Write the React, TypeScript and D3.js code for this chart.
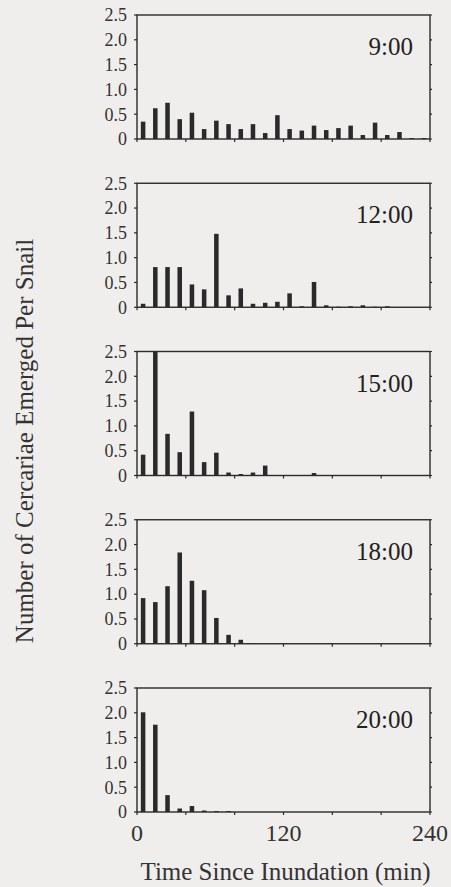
import React, { useEffect, useRef } from "react";
import * as d3 from "d3";

// bin centres (min since inundation)
const minutes = [5, 15, 25, 35, 45, 55, 65, 75, 85, 95, 105, 115, 125, 135, 145, 155, 165, 175, 185, 195, 205, 215, 225, 235];

const panelLabels = ["9:00", "12:00", "15:00", "18:00", "20:00"];

const cerc0900 = [0.35, 0.62, 0.73, 0.40, 0.53, 0.20, 0.37, 0.30, 0.20, 0.30, 0.12, 0.48, 0.20, 0.17, 0.27, 0.18, 0.22, 0.27, 0.08, 0.33, 0.08, 0.14, 0.02, 0.02];
const cerc1200 = [0.07, 0.81, 0.81, 0.81, 0.46, 0.36, 1.48, 0.24, 0.38, 0.07, 0.09, 0.11, 0.28, 0.02, 0.51, 0.04, 0.01, 0.02, 0.04, 0.01, 0.02, 0, 0, 0];
const cerc1500 = [0.42, 2.5, 0.84, 0.47, 1.29, 0.27, 0.46, 0.06, 0.03, 0.06, 0.20, 0.01, 0.01, 0.01, 0.05, 0.01, 0.01, 0.01, 0.01, 0.01, 0.01, 0.01, 0.01, 0.01];
const cerc1800 = [0.92, 0.84, 1.16, 1.84, 1.27, 1.08, 0.52, 0.18, 0.08, 0.01, 0, 0, 0, 0, 0, 0, 0, 0, 0, 0, 0, 0, 0, 0];
const cerc2000 = [2.01, 1.76, 0.34, 0.07, 0.12, 0.03, 0.02, 0.02, 0, 0, 0, 0, 0, 0, 0, 0, 0, 0, 0, 0, 0, 0, 0, 0];

const yTicks = [0, 0.5, 1, 1.5, 2, 2.5];
const xTicks = [0, 40, 80, 120, 160, 200, 240];
const xLabels = [0, 120, 240];

const W = 451;
const H = 887;
const FONT = "'Liberation Serif', 'Times New Roman', serif";
const INK = "#2a2a2a";

export default function App() {
  const ref = useRef<SVGSVGElement>(null);

  useEffect(() => {
    const series = [cerc0900, cerc1200, cerc1500, cerc1800, cerc2000];
    const svg = d3.select(ref.current);
    svg.selectAll("*").remove();

    svg.append("rect").attr("width", W).attr("height", H).attr("fill", "#f0eeec");

    const left = 137;
    const right = 430;
    const panelH = 124;
    const step = 168.25;

    const x = d3.scaleLinear().domain([0, 240]).range([left, right]);
    const barW = x(3.7) - x(0);

    series.forEach((vals, i) => {
      const top = 15 + i * step;
      const y = d3.scaleLinear().domain([0, 2.5]).range([top + panelH, top]);
      const g = svg.append("g");

      // bars
      g.selectAll("rect.bar")
        .data(vals)
        .enter()
        .append("rect")
        .attr("class", "bar")
        .attr("x", (d, j) => x(minutes[j]) - barW / 2)
        .attr("y", (d) => y(d))
        .attr("width", barW)
        .attr("height", (d) => y(0) - y(d))
        .attr("fill", INK);

      // frame
      g.append("rect")
        .attr("x", left)
        .attr("y", top)
        .attr("width", right - left)
        .attr("height", panelH)
        .attr("fill", "none")
        .attr("stroke", INK)
        .attr("stroke-width", 1.4);

      // y ticks, both sides, outward
      g.selectAll("line.yl")
        .data(yTicks)
        .enter()
        .append("line")
        .attr("x1", left - 3)
        .attr("x2", left)
        .attr("y1", (d) => y(d))
        .attr("y2", (d) => y(d))
        .attr("stroke", INK)
        .attr("stroke-width", 1.2);
      g.selectAll("line.yr")
        .data(yTicks)
        .enter()
        .append("line")
        .attr("x1", right)
        .attr("x2", right + 2)
        .attr("y1", (d) => y(d))
        .attr("y2", (d) => y(d))
        .attr("stroke", INK)
        .attr("stroke-width", 1.2);

      g.selectAll("text.yt")
        .data(yTicks)
        .enter()
        .append("text")
        .attr("x", 127)
        .attr("y", (d) => y(d))
        .attr("dy", "0.35em")
        .attr("text-anchor", "end")
        .attr("font-family", FONT)
        .attr("font-size", 18)
        .attr("fill", "#333")
        .text((d) => (d === 0 ? "0" : d.toFixed(1)));

      // x ticks pointing down
      g.selectAll("line.xt")
        .data(xTicks)
        .enter()
        .append("line")
        .attr("x1", (d) => x(d))
        .attr("x2", (d) => x(d))
        .attr("y1", y(0))
        .attr("y2", y(0) + 3)
        .attr("stroke", INK)
        .attr("stroke-width", 1.2);

      g.append("text")
        .attr("x", 413)
        .attr("y", top + 40)
        .attr("text-anchor", "end")
        .attr("font-family", FONT)
        .attr("font-size", 25)
        .attr("fill", "#222")
        .text(panelLabels[i]);

      if (i === series.length - 1) {
        g.selectAll("text.xl")
          .data(xLabels)
          .enter()
          .append("text")
          .attr("x", (d) => x(d))
          .attr("y", y(0) + 29)
          .attr("text-anchor", "middle")
          .attr("font-family", FONT)
          .attr("font-size", 24)
          .attr("fill", "#333")
          .text((d) => d);
      }
    });

    svg.append("text")
      .attr("x", (left + right) / 2 + 2)
      .attr("y", 880)
      .attr("text-anchor", "middle")
      .attr("font-family", FONT)
      .attr("font-size", 25)
      .attr("fill", "#333")
      .text("Time Since Inundation (min)");

    svg.append("text")
      .attr("transform", "translate(33,441) rotate(-90)")
      .attr("text-anchor", "middle")
      .attr("font-family", FONT)
      .attr("font-size", 25)
      .attr("fill", "#333")
      .text("Number of Cercariae Emerged Per Snail");
  }, []);

  return (
    <svg
      ref={ref}
      width={W}
      height={H}
      style={{ position: "absolute", left: 0, top: 0 }}
    />
  );
}
